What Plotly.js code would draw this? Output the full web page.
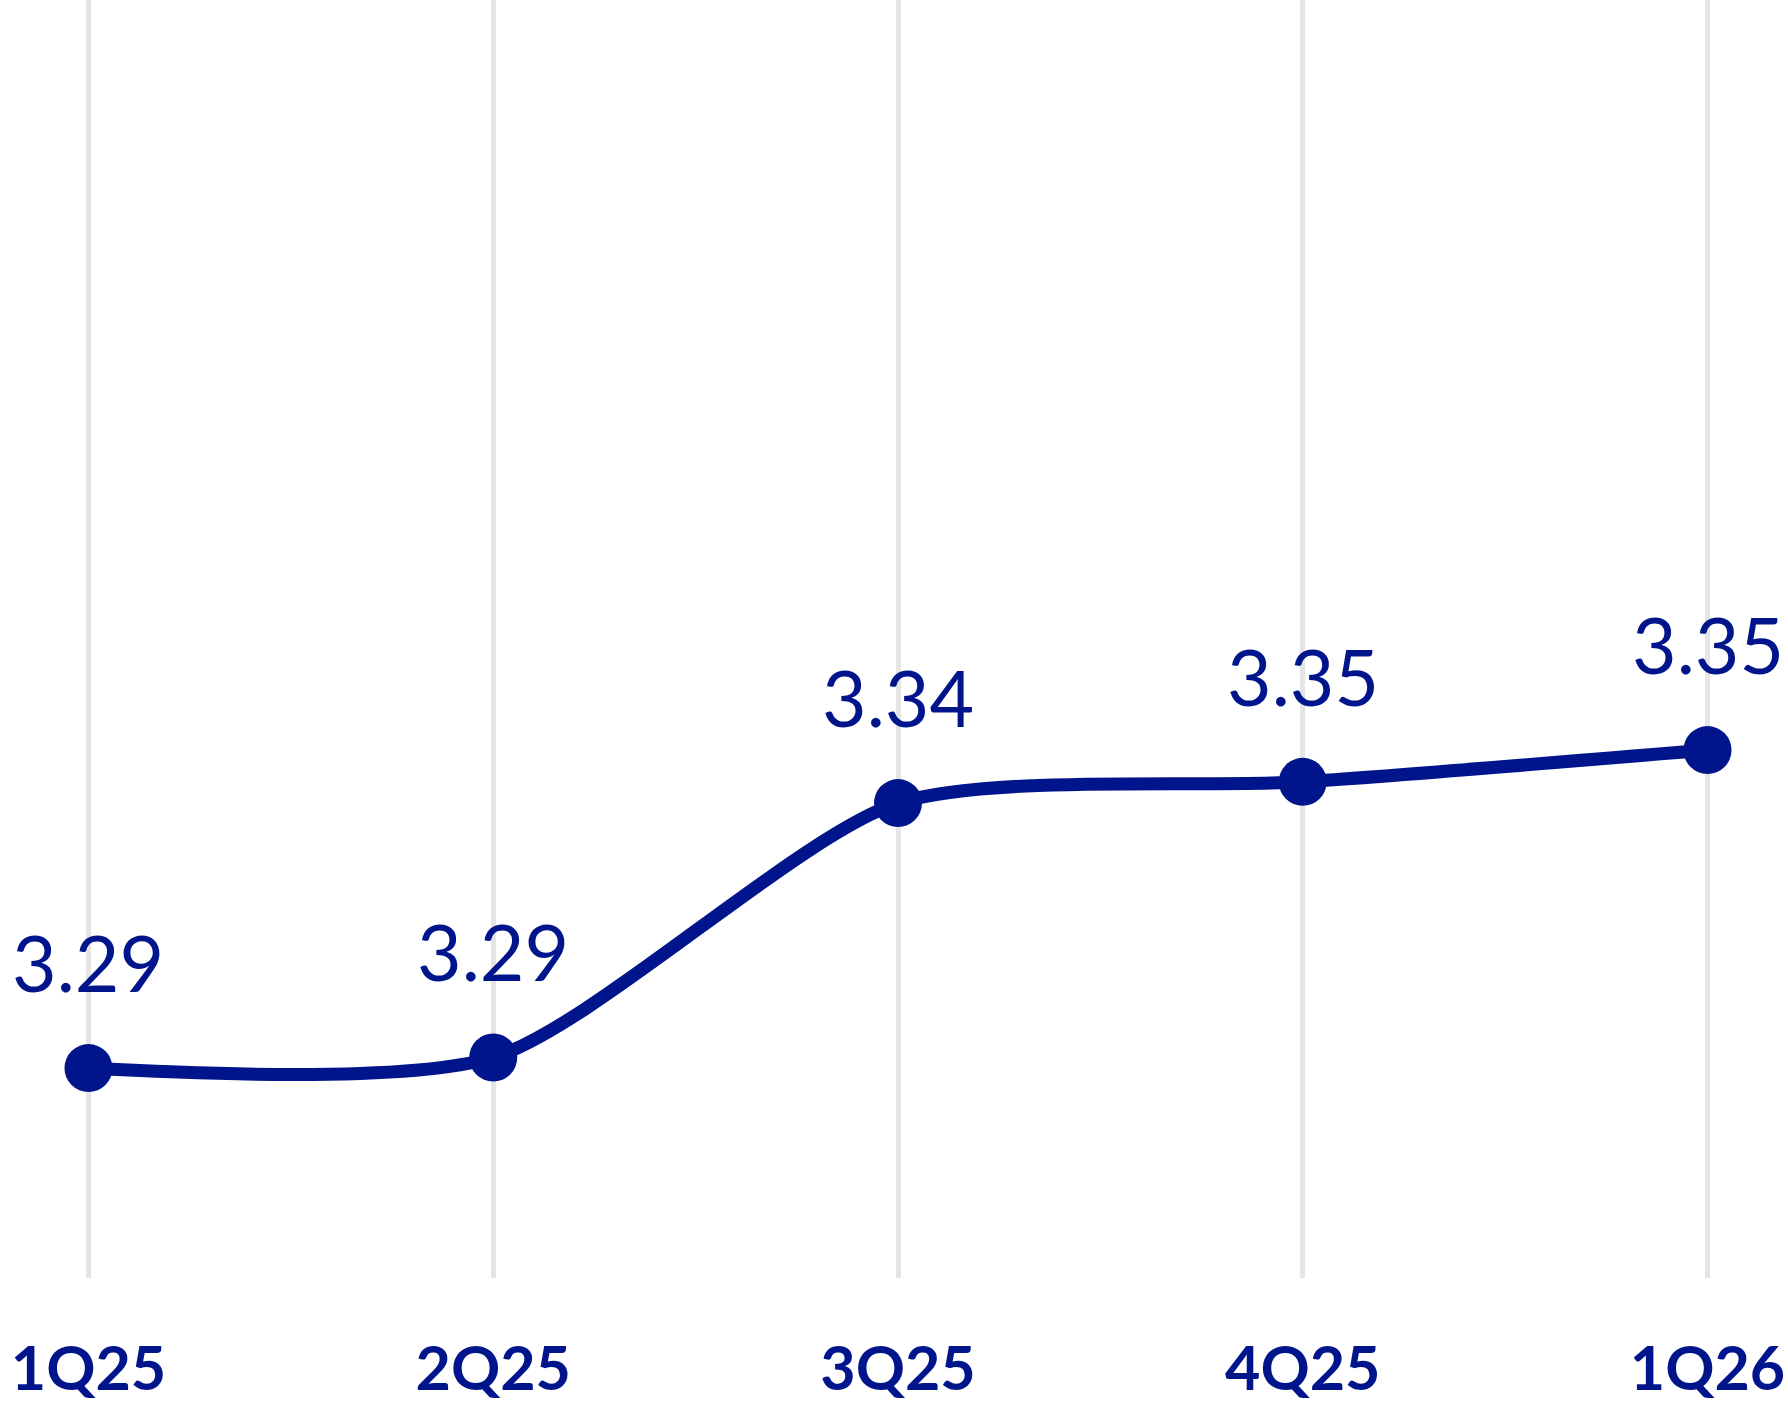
<!DOCTYPE html>
<html>
<head>
<meta charset="utf-8">
<script src="https://cdn.plot.ly/plotly-3.0.1.min.js"></script>
<style>
  html, body { margin: 0; padding: 0; background: #ffffff; }
  #chart_div { width: 1788px; height: 1428px; }
</style>
</head>
<body>
<div id="chart_div"></div>
<script>
// quarters shown on the x axis
var quarters = ['1Q25', '2Q25', '3Q25', '4Q25', '1Q26'];
// values (labels show them rounded to 2 decimals)
var values = [3.292, 3.294, 3.342, 3.346, 3.352];
// labels printed above each point
var valueLabels = ['3.29', '3.29', '3.34', '3.35', '3.35'];

var blue = '#00158C';

function drawChart() {

	var idx = [];
	for (var i = 0; i < quarters.length; i++) idx.push(i);

	var trace = {
		x: idx,
		y: values,
		mode: 'lines+markers',
		type: 'scatter',
		line: { color: blue, width: 13, shape: 'spline', smoothing: 0.7 },
		marker: { color: blue, size: 48, line: { width: 0 } },
		cliponaxis: false,
		hoverinfo: 'skip',
		showlegend: false
	};

	//value labels sit above each marker
	var notes = [];
	for (var j = 0; j < values.length; j++) {
		notes.push({
			x: idx[j],
			y: values[j],
			text: valueLabels[j],
			showarrow: false,
			xanchor: 'center',
			yanchor: 'bottom',
			yshift: 58,
			font: { family: 'Lato, sans-serif', size: 77, color: blue }
		});
	}

	//range padded a little so the first and last gridlines and labels show
	var layout = {
		width: 1788,
		height: 1428,
		margin: { l: 48, r: 40, t: 0, b: 150 },
		paper_bgcolor: '#ffffff',
		plot_bgcolor: '#ffffff',
		showlegend: false,
		xaxis: {
			range: [-0.1, 4.1],
			tickmode: 'array',
			tickvals: idx,
			ticktext: quarters,
			showgrid: true,
			gridcolor: '#e5e5e5',
			gridwidth: 5,
			zeroline: false,
			showline: false,
			ticks: '',
			ticklabelstandoff: 50,
			automargin: false,
			tickfont: { family: 'Lato, sans-serif', size: 61, color: blue, weight: 'bold' },
			fixedrange: true
		},
		yaxis: {
			range: [3.2524, 3.4935],
			visible: false,
			showgrid: false,
			zeroline: false,
			fixedrange: true
		},
		annotations: notes
	};

	Plotly.newPlot('chart_div', [trace], layout, { staticPlot: true, displayModeBar: false });
}

drawChart();
</script>
</body>
</html>
